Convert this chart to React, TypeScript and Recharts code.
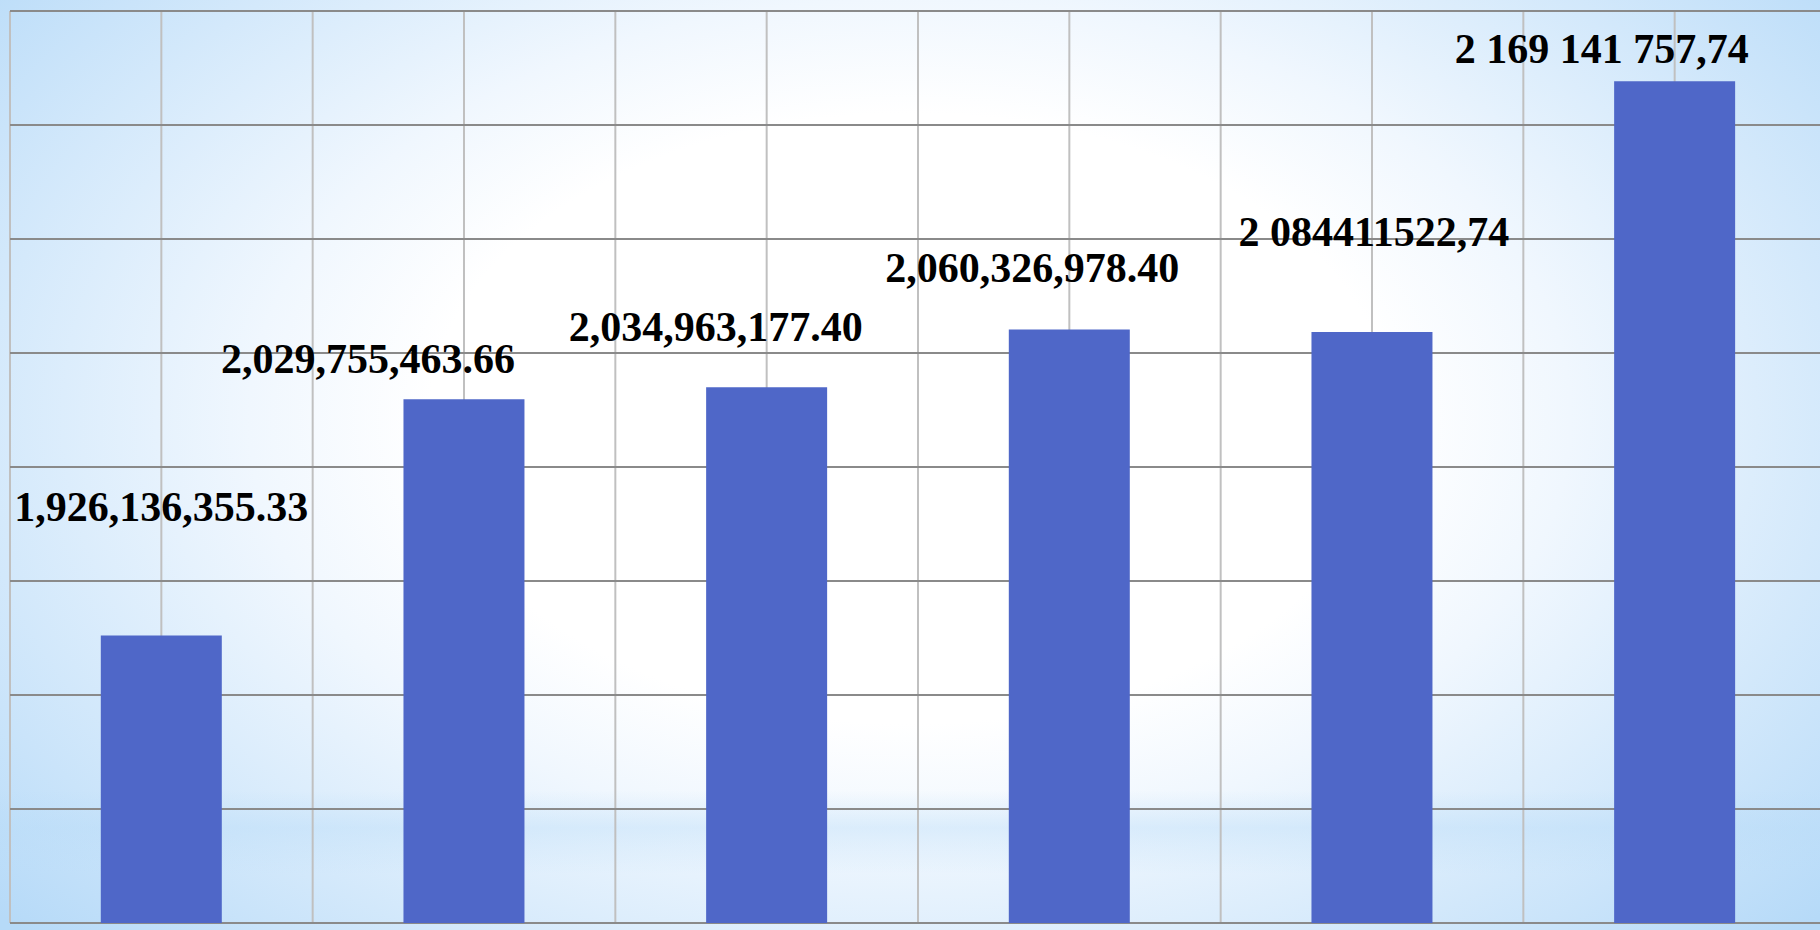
import { BarChart, Bar, XAxis, YAxis, CartesianGrid, LabelList } from "recharts";

// one bar per period, six in all
const periods = ["P1", "P2", "P3", "P4", "P5", "P6"];
const amounts = [1926136355.33, 2029755463.66, 2034963177.4, 2060326978.4, 2059200000, 2169141757.74];
const amountLabels = [
  "1,926,136,355.33",
  "2,029,755,463.66",
  "2,034,963,177.40",
  "2,060,326,978.40",
  "2 084411522,74",
  "2 169 141 757,74",
];
const valueTicks = [1.8e9, 1.85e9, 1.9e9, 1.95e9, 2.0e9, 2.05e9, 2.1e9, 2.15e9, 2.2e9];

// labels were dragged around by hand in the original slide
const labelNudge = [
  { dx: 0, dy: -114 },
  { dx: -96, dy: -26 },
  { dx: -51, dy: -46 },
  { dx: -37, dy: -47 },
  { dx: 2, dy: -86 },
  { dx: -73, dy: -18 },
];

const chartData = periods.map((p, i) => ({ period: p, amount: amounts[i], label: amountLabels[i] }));

function AmountLabel(props: any) {
  const { x, y, width, index, value } = props;
  const n = labelNudge[index] || { dx: 0, dy: -10 };
  return (
    <text
      x={Number(x) + Number(width) / 2 + n.dx}
      y={Number(y) + n.dy}
      textAnchor="middle"
      fill="#000"
      style={{ fontFamily: "'Times New Roman', 'Liberation Serif', serif", fontWeight: 700, fontSize: 42 }}
    >
      {value}
    </text>
  );
}

const lo = valueTicks[0];
const hi = valueTicks[valueTicks.length - 1];

export default function App() {
  return (
    <div
      style={{
        position: "absolute",
        left: 0,
        top: 0,
        width: 1820,
        height: 930,
        overflow: "hidden",
        background:
          "linear-gradient(to bottom, rgba(185,220,248,0) 85%, rgba(185,220,248,0.4) 89%, rgba(185,220,248,0) 94%), radial-gradient(ellipse 66% 82% at 50% 45%, #ffffff 40%, #f0f7fe 55%, #b6daf8 100%)",
      }}
    >
      <BarChart
        width={1826}
        height={930}
        data={chartData}
        margin={{ top: 11, right: 0, bottom: 7, left: 10 }}
        barCategoryGap="30%"
      >
        <CartesianGrid
          horizontal={false}
          stroke="#c0c0c0"
          strokeWidth={2}
          verticalCoordinatesGenerator={({ offset }: any) =>
            Array.from({ length: periods.length * 2 + 1 }, (_, i) => offset.left + (i * offset.width) / (periods.length * 2))
          }
        />
        <CartesianGrid
          vertical={false}
          stroke="#8a8a8a"
          strokeWidth={2}
          horizontalCoordinatesGenerator={({ offset }: any) =>
            valueTicks.map((t) => offset.top + offset.height * (1 - (t - lo) / (hi - lo)))
          }
        />
        <XAxis dataKey="period" hide />
        <YAxis
          width={0}
          domain={[lo, hi]}
          ticks={valueTicks}
          tick={false}
          tickLine={false}
          axisLine={false}
        />
        <Bar dataKey="amount" fill="#4f67c8" isAnimationActive={false}>
          <LabelList dataKey="label" content={AmountLabel} />
        </Bar>
      </BarChart>
    </div>
  );
}
